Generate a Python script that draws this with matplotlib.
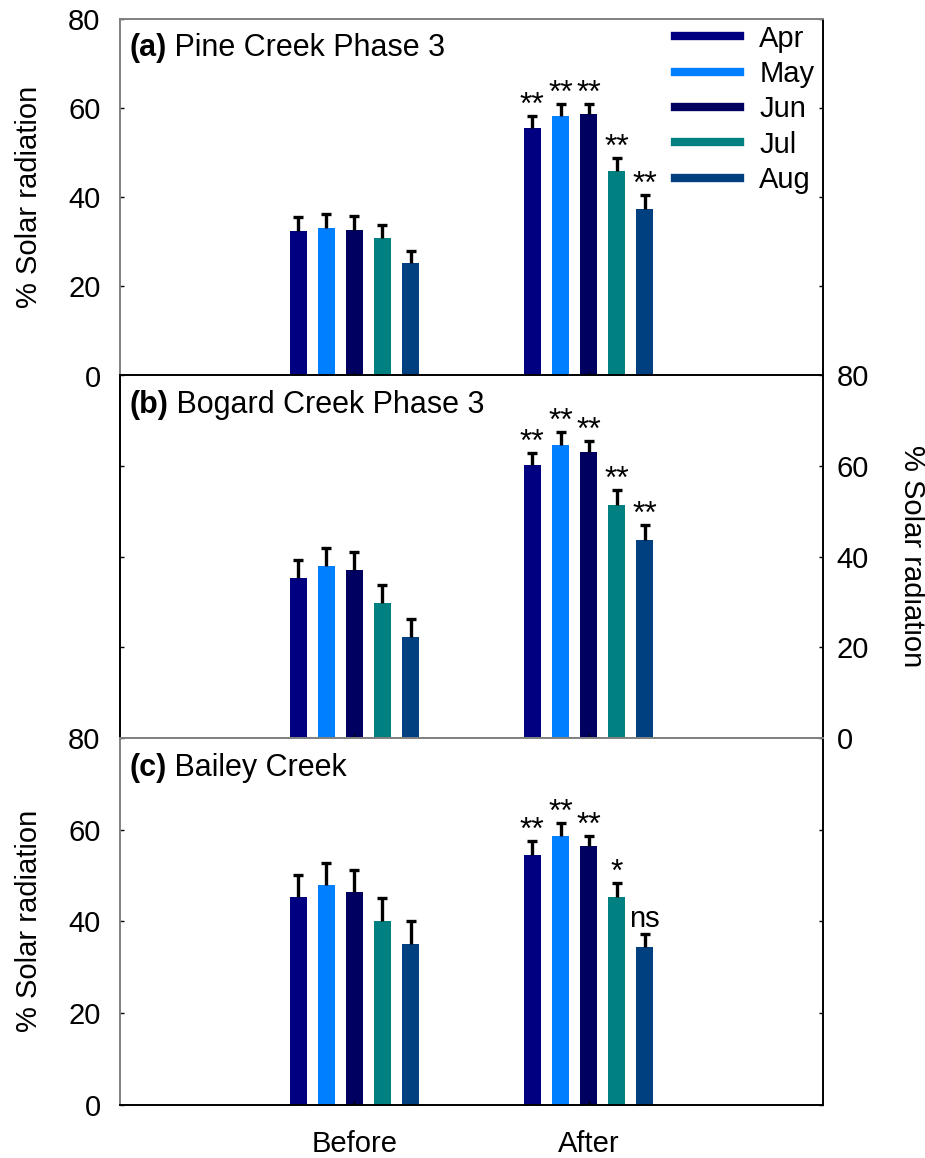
import numpy as np
import matplotlib
matplotlib.use('Agg')
import matplotlib.pyplot as plt
from matplotlib.lines import Line2D

plt.rcParams['font.family'] = ['Liberation Sans', 'DejaVu Sans']

months = ['Apr', 'May', 'Jun', 'Jul', 'Aug']
periods = ['Before', 'After']
colors = ['#000080', '#0080FF', '#000060', '#008080', '#004080']
panel_tags = ['(a)', '(b)', '(c)']
panel_names = [' Pine Creek Phase 3', ' Bogard Creek Phase 3', ' Bailey Creek']
yticks = [0, 20, 40, 60, 80]

pine_before = [32.5, 33.2, 32.7, 30.9, 25.3]
pine_before_err = [3.0, 3.0, 3.2, 2.9, 2.7]
pine_after = [55.5, 58.3, 58.6, 45.9, 37.4]
pine_after_err = [2.8, 2.6, 2.3, 2.9, 3.2]
pine_sig = ['**', '**', '**', '**', '**']

bogard_before = [35.3, 37.8, 37.1, 29.8, 22.3]
bogard_before_err = [4.0, 4.1, 4.0, 3.9, 3.8]
bogard_after = [60.3, 64.7, 63.0, 51.4, 43.7]
bogard_after_err = [2.5, 2.8, 2.5, 3.2, 3.3]
bogard_sig = ['**', '**', '**', '**', '**']

bailey_before = [45.3, 47.9, 46.4, 40.1, 35.0]
bailey_before_err = [4.7, 4.9, 4.7, 4.9, 5.1]
bailey_after = [54.4, 58.6, 56.4, 45.4, 34.4]
bailey_after_err = [3.1, 2.8, 2.2, 2.9, 2.8]
bailey_sig = ['**', '**', '**', '*', 'ns']

panels = [
    (pine_before, pine_before_err, pine_after, pine_after_err, pine_sig),
    (bogard_before, bogard_before_err, bogard_after, bogard_after_err, bogard_sig),
    (bailey_before, bailey_before_err, bailey_after, bailey_after_err, bailey_sig),
]

fig = plt.figure(figsize=(9.25, 11.58), dpi=100)
rects = [
    [0.1297, 0.6757, 0.760, 0.3079],
    [0.1297, 0.3630, 0.760, 0.3128],
    [0.1297, 0.04577, 0.760, 0.3172],
]
gray = '#808080'
spine_cols = [
    {'left': gray, 'top': gray, 'right': 'black', 'bottom': 'black'},
    {'left': 'black', 'top': 'black', 'right': 'black', 'bottom': gray},
    {'left': gray, 'top': gray, 'right': 'black', 'bottom': 'black'},
]

x = np.arange(len(periods))
offsets = (np.arange(len(months)) - 2) * 0.12
width = 0.073

axes = []
for p, (bef, bef_e, aft, aft_e, sig) in enumerate(panels):
    ax = fig.add_axes(rects[p])
    axes.append(ax)
    for i, m in enumerate(months):
        vals = np.array([bef[i], aft[i]])
        errs = np.array([bef_e[i], aft_e[i]])
        xs = x + offsets[i]
        ax.bar(xs, vals, width, color=colors[i], linewidth=0, zorder=1)
        cont = ax.errorbar(xs, vals, yerr=[np.zeros_like(errs), errs], fmt='none',
                           ecolor='black', elinewidth=2.4, capsize=3.8, capthick=2.4,
                           zorder=2)
        cont.lines[1][0].set_visible(False)
        s = sig[i]
        off = 5.5 if s == 'ns' else 1.5
        ax.annotate(s, xy=(xs[1], vals[1] + errs[1]), xytext=(0, off),
                    textcoords='offset points', ha='center', va='baseline',
                    fontsize=21 if s == 'ns' else 23)
    ax.set_xlim(-1, 2)
    ax.set_ylim(0, 80)
    ax.set_yticks(yticks)
    ax.set_xticks(x)
    for side, col in spine_cols[p].items():
        ax.spines[side].set_color(col)
        ax.spines[side].set_linewidth(1.4)
    ax.tick_params(axis='y', direction='in', length=3, width=1, left=True, right=True,
                   labelsize=21, pad=14, colors='black')
    ax.tick_params(axis='x', direction='in', length=3, width=1, labelsize=21, pad=18)
    if p == 1:
        ax.tick_params(axis='y', labelleft=False, labelright=True, pad=10)
        ax.yaxis.set_label_position('right')
        ax.set_ylabel('% Solar radiation', fontsize=21, rotation=270)
        ax.yaxis.set_label_coords(1.1266, 0.5)
    else:
        ax.set_ylabel('% Solar radiation', fontsize=21, rotation=90)
        ax.yaxis.set_label_coords(-0.129, 0.5)
    ax.yaxis.label.set_rotation_mode('default')
    ax.yaxis.label.set_va('center')
    ax.yaxis.label.set_ha('center')
    if p == 2:
        ax.set_xticklabels(periods)
    else:
        ax.tick_params(axis='x', labelbottom=False)
    t = ax.text(0.013, 0.895, panel_tags[p], transform=ax.transAxes, fontsize=22,
                fontweight='bold', ha='left', va='baseline')
    ax.annotate(panel_names[p], xy=(1, 0), xycoords=t, ha='left', va='bottom',
                fontsize=22)

handles = [Line2D([], [], color=c, lw=6) for c in colors]
axes[0].legend(handles, months, loc='upper left', bbox_to_anchor=(0.789, 0.984),
               frameon=False, handlelength=2.25, handletextpad=0.65,
               labelspacing=0.25, borderpad=0, borderaxespad=0, fontsize=21)

fig.savefig('out.png', dpi=100)
